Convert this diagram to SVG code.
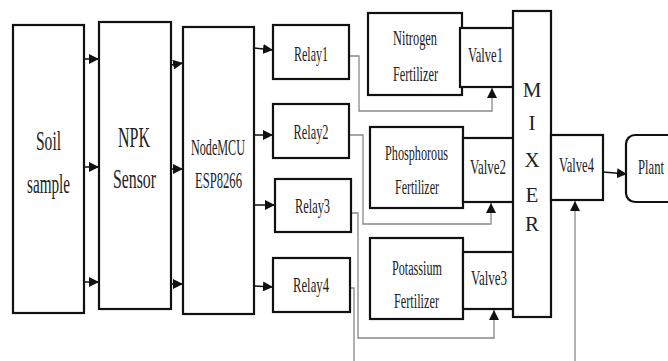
<svg xmlns="http://www.w3.org/2000/svg" width="668" height="361" viewBox="0 0 668 361">
<defs>
<style>
.box{fill:#fff;stroke:#111;stroke-width:2.2}
.t{font-family:"Liberation Serif","Times New Roman",serif;fill:#222;text-anchor:middle}
.c{fill:none;stroke:#111;stroke-width:1.5}
.g{fill:none;stroke:#888;stroke-width:1.3}
</style>
<marker id="ah" markerUnits="userSpaceOnUse" markerWidth="10" markerHeight="10" viewBox="0 0 10 10" refX="10" refY="5" orient="auto">
<path d="M0,0 L10,5 L0,10 Z" fill="#111"/>
</marker>
</defs>
<rect width="668" height="361" fill="#fff"/>
<g id="connectors">
<path class="c" d="M84,59 H99" marker-end="url(#ah)"/>
<path class="c" d="M84,167 H99" marker-end="url(#ah)"/>
<path class="c" d="M84,282 H99" marker-end="url(#ah)"/>
<path class="c" d="M171,65 L183,63" marker-end="url(#ah)"/>
<path class="c" d="M171,169 H183" marker-end="url(#ah)"/>
<path class="c" d="M171,284 H183" marker-end="url(#ah)"/>
<path class="c" d="M254,48 L273,50" marker-end="url(#ah)"/>
<path class="c" d="M254,135 H273" marker-end="url(#ah)"/>
<path class="c" d="M254,205 H275" marker-end="url(#ah)"/>
<path class="c" d="M254,286 L273,287" marker-end="url(#ah)"/>
<path class="g" d="M349,56 H359 V111 H492 V88" marker-end="url(#ah)"/>
<path class="g" d="M349,135 H363 V224 H491 V203" marker-end="url(#ah)"/>
<path class="g" d="M351,213 H358 V338 H494 V310" marker-end="url(#ah)"/>
<path class="g" d="M350,288 H354 V361"/>
<path class="g" d="M575,361 V201" marker-end="url(#ah)"/>
<path class="c" d="M603,172 L627,174" marker-end="url(#ah)"/>
</g>
<g id="soil"><rect class="box" x="13" y="25" width="71" height="288"/>
<text class="t" x="48.5" y="150" font-size="28" textLength="25" lengthAdjust="spacingAndGlyphs">Soil</text>
<text class="t" x="48.5" y="193" font-size="28" textLength="43" lengthAdjust="spacingAndGlyphs">sample</text></g>
<g id="npk"><rect class="box" x="99" y="22" width="72" height="287"/>
<text class="t" x="134" y="147" font-size="29" textLength="32" lengthAdjust="spacingAndGlyphs">NPK</text>
<text class="t" x="134.5" y="188" font-size="28" textLength="43" lengthAdjust="spacingAndGlyphs">Sensor</text></g>
<g id="nodemcu"><rect class="box" x="183" y="27" width="71" height="287"/>
<text class="t" x="218" y="155" font-size="23" textLength="54" lengthAdjust="spacingAndGlyphs">NodeMCU</text>
<text class="t" x="218.5" y="188" font-size="23" textLength="47" lengthAdjust="spacingAndGlyphs">ESP8266</text></g>
<g id="relay1"><rect class="box" x="273" y="25" width="76" height="54"/>
<text class="t" x="311" y="61" font-size="21" textLength="34" lengthAdjust="spacingAndGlyphs">Relay1</text></g>
<g id="relay2"><rect class="box" x="273" y="104" width="76" height="54"/>
<text class="t" x="311" y="139" font-size="21" textLength="35" lengthAdjust="spacingAndGlyphs">Relay2</text></g>
<g id="relay3"><rect class="box" x="275" y="179" width="76" height="53"/>
<text class="t" x="312.5" y="213" font-size="21" textLength="35" lengthAdjust="spacingAndGlyphs">Relay3</text></g>
<g id="relay4"><rect class="box" x="273" y="258" width="77" height="54"/>
<text class="t" x="311" y="292" font-size="21" textLength="36" lengthAdjust="spacingAndGlyphs">Relay4</text></g>
<g id="nitrogen"><rect class="box" x="368" y="13" width="94" height="82"/>
<text class="t" x="415" y="45" font-size="20" textLength="44" lengthAdjust="spacingAndGlyphs">Nitrogen</text>
<text class="t" x="415.5" y="81" font-size="20" textLength="45" lengthAdjust="spacingAndGlyphs">Fertilizer</text></g>
<g id="valve1"><rect class="box" x="460" y="28" width="53" height="59"/>
<text class="t" x="485.5" y="62" font-size="22" textLength="35" lengthAdjust="spacingAndGlyphs">Valve1</text></g>
<g id="phosphorous"><rect class="box" x="370" y="127" width="93" height="81"/>
<text class="t" x="416.5" y="160" font-size="20" textLength="63" lengthAdjust="spacingAndGlyphs">Phosphorous</text>
<text class="t" x="417" y="194" font-size="20" textLength="44" lengthAdjust="spacingAndGlyphs">Fertilizer</text></g>
<g id="valve2"><rect class="box" x="463" y="138" width="52" height="64"/>
<text class="t" x="488" y="174" font-size="22" textLength="36" lengthAdjust="spacingAndGlyphs">Valve2</text></g>
<g id="potassium"><rect class="box" x="370" y="238" width="93" height="81"/>
<text class="t" x="417" y="275" font-size="20" textLength="50" lengthAdjust="spacingAndGlyphs">Potassium</text>
<text class="t" x="416.5" y="308" font-size="20" textLength="45" lengthAdjust="spacingAndGlyphs">Fertilizer</text></g>
<g id="valve3"><rect class="box" x="463" y="252" width="53" height="57"/>
<text class="t" x="489" y="285" font-size="22" textLength="36" lengthAdjust="spacingAndGlyphs">Valve3</text></g>
<g id="mixer"><rect class="box" x="513" y="11" width="38" height="306"/>
<text class="t" x="532" y="97" font-size="21">M</text>
<text class="t" x="532" y="130" font-size="21">I</text>
<text class="t" x="532" y="167" font-size="21">X</text>
<text class="t" x="532" y="202" font-size="21">E</text>
<text class="t" x="532" y="231" font-size="21">R</text></g>
<g id="valve4"><rect class="box" x="551" y="135" width="52" height="65"/>
<text class="t" x="576.5" y="172" font-size="22" textLength="35" lengthAdjust="spacingAndGlyphs">Valve4</text></g>
<g id="plant"><rect class="box" x="626" y="135" width="60" height="67" rx="9"/>
<text class="t" x="651" y="174" font-size="22" textLength="26" lengthAdjust="spacingAndGlyphs">Plant</text></g>
</svg>
